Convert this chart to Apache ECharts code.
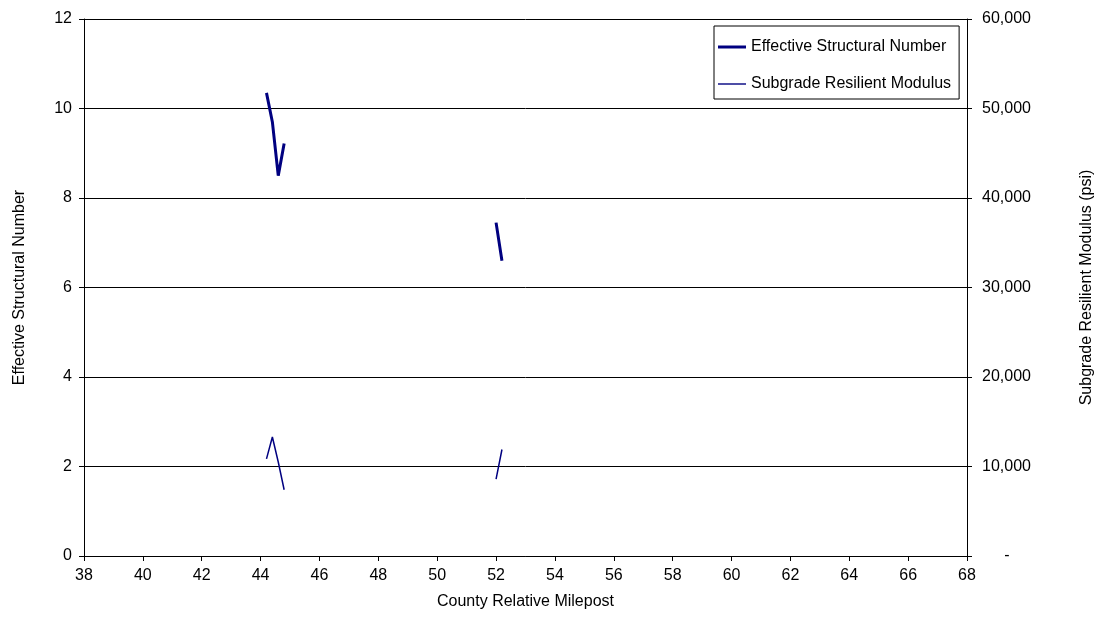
<!DOCTYPE html>
<html>
<head>
<meta charset="utf-8">
<script src="https://cdn.jsdelivr.net/npm/echarts@6/dist/echarts.min.js"></script>
<style>
  html, body { margin: 0; padding: 0; background: #fff; }
  #chart { width: 1105px; height: 644px; }
</style>
</head>
<body>
<div id="chart"></div>
<script>
// milepost values, null marks a break in the line
const mileposts = [44.2, 44.4, 44.6, 44.8, null, 52.0, 52.2]
const structuralNumber = [10.35, 9.7, 8.5, 9.22, null, 7.45, 6.6]
const resilientModulus = [10850, 13300, 10500, 7400, null, 8600, 11900]

const seriesNames = ['Effective Structural Number', 'Subgrade Resilient Modulus']

function pairs(xs, ys) {
  return xs.map((x, i) => (x === null ? [null, null] : [x, ys[i]]))
}

// legend icons: plain line, thick and thin (moveTo points keep the box size)
const thickIcon = 'path://M0,0 M28,0 M0,14 M28,14 M0,5.5 L28,5.5 L28,8.5 L0,8.5 Z'
const thinIcon = 'path://M0,0 M28,0 M0,14 M28,14 M0,6.3 L28,6.3 L28,7.7 L0,7.7 Z'

const font = 'Arial, "Liberation Sans", sans-serif'
const chart = echarts.init(document.getElementById('chart'))

chart.setOption({
  animation: false,
  textStyle: { fontFamily: font, color: '#000' },
  grid: { left: 84, right: 138, top: 19, bottom: 88 },
  legend: {
    orient: 'vertical',
    left: 714,
    top: 26,
    align: 'left',
    itemWidth: 28,
    itemHeight: 14,
    itemGap: 21,
    padding: [13, 8, 7, 4],
    borderColor: '#000',
    borderWidth: 1,
    textStyle: { fontFamily: font, fontSize: 16, color: '#000' },
    data: [
      { name: seriesNames[0], icon: thickIcon, itemStyle: { color: '#000080' } },
      { name: seriesNames[1], icon: thinIcon, itemStyle: { color: '#000080' } }
    ]
  },
  xAxis: {
    type: 'value',
    min: 38,
    max: 68,
    interval: 2,
    name: 'County Relative Milepost',
    nameLocation: 'middle',
    nameGap: 38,
    nameTextStyle: { fontSize: 16, color: '#000' },
    axisLine: { show: true, lineStyle: { color: '#000' } },
    axisTick: { show: true, length: 5, lineStyle: { color: '#000' } },
    axisLabel: { fontSize: 16, color: '#000', margin: 12 },
    splitLine: { show: false }
  },
  yAxis: [
    {
      type: 'value',
      min: 0,
      max: 12,
      interval: 2,
      name: 'Effective Structural Number',
      nameLocation: 'middle',
      nameGap: 56,
      nameTextStyle: { fontSize: 16, color: '#000' },
      axisLine: { show: true, lineStyle: { color: '#000' } },
      axisTick: { show: true, length: 5, lineStyle: { color: '#000' } },
      axisLabel: { fontSize: 16, color: '#000', margin: 12 },
      splitLine: { show: true, lineStyle: { color: '#000', width: 1 } }
    },
    {
      type: 'value',
      position: 'right',
      min: 0,
      max: 60000,
      interval: 10000,
      name: 'Subgrade Resilient Modulus (psi)',
      nameLocation: 'middle',
      nameGap: 112,
      nameRotate: 90,
      nameTextStyle: { fontSize: 16, color: '#000' },
      axisLine: { show: true, lineStyle: { color: '#000' } },
      axisTick: { show: true, length: 5, lineStyle: { color: '#000' } },
      axisLabel: {
        fontSize: 16,
        color: '#000',
        margin: 15,
        formatter: v => (v === 0 ? '     -' : v.toLocaleString('en-US'))
      },
      splitLine: { show: false }
    }
  ],
  series: [
    {
      name: seriesNames[0],
      type: 'line',
      yAxisIndex: 0,
      data: pairs(mileposts, structuralNumber),
      showSymbol: false,
      symbol: 'none',
      connectNulls: false,
      lineStyle: { color: '#000080', width: 3 },
      itemStyle: { color: '#000080' }
    },
    {
      name: seriesNames[1],
      type: 'line',
      yAxisIndex: 1,
      data: pairs(mileposts, resilientModulus),
      showSymbol: false,
      symbol: 'none',
      connectNulls: false,
      lineStyle: { color: '#000080', width: 1.5 },
      itemStyle: { color: '#000080' }
    }
  ]
})
</script>
</body>
</html>
